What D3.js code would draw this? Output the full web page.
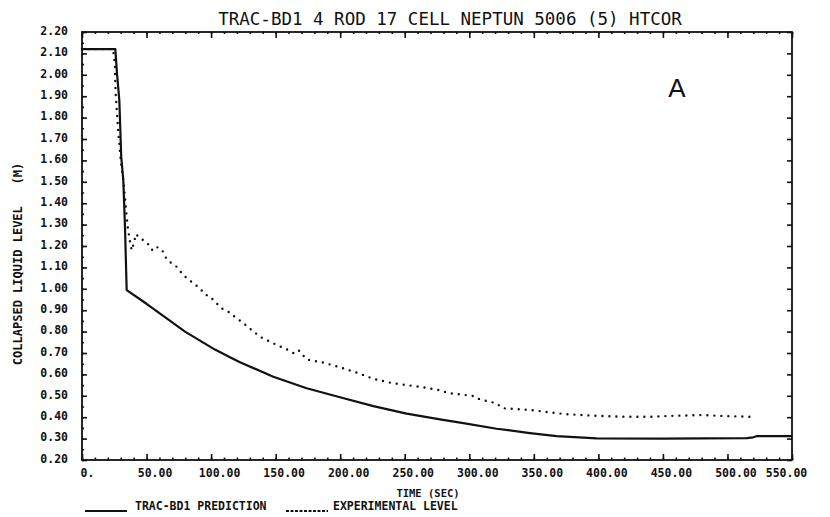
<!DOCTYPE html>
<html><head><meta charset="utf-8">
<script src="https://cdn.jsdelivr.net/npm/d3@7"></script>
<style>
body{margin:0;background:#fff}
text{font-family:"DejaVu Sans Mono",monospace;fill:#111}
</style>
</head><body>
<svg id="c" width="830" height="517"></svg>
<script>
const title = "TRAC-BD1 4 ROD 17 CELL NEPTUN 5006 (5) HTCOR";
const xLabel = "TIME (SEC)";
const yLabel = "COLLAPSED LIQUID LEVEL   (M)";
const panelTag = "A";
const legendNames = ["TRAC-BD1 PREDICTION", "EXPERIMENTAL LEVEL"];

const xTickValues = [0,50,100,150,200,250,300,350,400,450,500,550];
const xTickLabels = ["0.","50.00","100.00","150.00","200.00","250.00","300.00","350.00","400.00","450.00","500.00","550.00"];
const yTickValues = [0.2,0.3,0.4,0.5,0.6,0.7,0.8,0.9,1.0,1.1,1.2,1.3,1.4,1.5,1.6,1.7,1.8,1.9,2.0,2.1,2.2];
const yTickLabels = ["0.20","0.30","0.40","0.50","0.60","0.70","0.80","0.90","1.00","1.10","1.20","1.30","1.40","1.50","1.60","1.70","1.80","1.90","2.00","2.10","2.20"];

// TRAC-BD1 prediction (solid)
const predTime  = [0, 25.8, 27.1, 28.9, 30.4, 32.0, 33.3, 34.6, 50, 65.6, 79.8, 103, 114.6, 122.4, 148.2, 174, 199.9, 225.7, 251.5, 277.3, 295.4, 321.2, 347, 367.7, 398.7, 450, 515, 520, 523, 550];
const predLevel = [2.12, 2.12, 2.008, 1.882, 1.616, 1.508, 1.289, 0.994, 0.93, 0.862, 0.80, 0.716, 0.68, 0.657, 0.589, 0.535, 0.493, 0.452, 0.417, 0.39, 0.372, 0.346, 0.326, 0.312, 0.301, 0.300, 0.302, 0.306, 0.312, 0.312];

// Experimental level (dotted)
const expTime  = [0, 24, 25.5, 26, 28, 30, 32.5, 34.1, 35.6, 37.2, 38.5, 40, 41.8, 44.9, 48.8, 52.7, 54.7, 58.3, 61.7, 65.6, 69.5, 73.3, 78.5, 82.4, 86.2, 91.4, 95.3, 99.2, 103, 108, 113.3, 119.8, 123.7, 131.5, 137.9, 148.2, 158.6, 163.7, 167.6, 174, 187, 200, 213, 226, 239, 251.5, 264, 276, 285, 303, 308, 321, 326, 347, 373, 399, 422, 440, 455, 480, 500, 517];
const expLevel = [2.12, 2.12, 2.05, 1.92, 1.74, 1.6, 1.48, 1.37, 1.28, 1.22, 1.18, 1.21, 1.256, 1.236, 1.223, 1.20, 1.178, 1.194, 1.185, 1.138, 1.119, 1.103, 1.064, 1.044, 1.026, 1.002, 0.974, 0.963, 0.94, 0.909, 0.893, 0.862, 0.846, 0.807, 0.776, 0.745, 0.717, 0.70, 0.714, 0.67, 0.655, 0.633, 0.608, 0.579, 0.561, 0.55, 0.54, 0.527, 0.512, 0.499, 0.484, 0.465, 0.442, 0.434, 0.415, 0.406, 0.402, 0.402, 0.406, 0.41, 0.405, 0.402];

const svg = d3.select("#c");
const L = 82, R = 792, T = 32, B = 460;
const x = d3.scaleLinear().domain([0, 550]).range([L, R]);
const y = d3.scaleLinear().domain([0.2, 2.2]).range([B, T]);
const ink = "#111";

// frame
svg.append("rect").attr("x", L).attr("y", T).attr("width", R - L).attr("height", B - T)
  .attr("fill", "none").attr("stroke", ink).attr("stroke-width", 1.8);

function styleAxis(g) {
  g.select(".domain").remove();
  g.selectAll(".tick line").attr("stroke", ink).attr("stroke-width", 1.6);
}

// bottom axis
const xLabMap = new Map(xTickValues.map((v, i) => [v, xTickLabels[i]]));
const gx = svg.append("g").attr("transform", `translate(0,${B})`)
  .call(d3.axisBottom(x).tickValues(xTickValues).tickSize(-6).tickSizeOuter(0).tickPadding(9).tickFormat(d => xLabMap.get(d)));
styleAxis(gx);
gx.selectAll(".tick text").attr("font-size", 11.5).attr("font-weight", "bold").attr("fill", ink)
  .attr("dx", d => d === 550 ? -6 : (d === 0 ? 5 : 8));
const gxm = svg.append("g").attr("transform", `translate(0,${B})`)
  .call(d3.axisBottom(x).tickValues(d3.range(0, 551, 10)).tickSize(-2.5).tickSizeOuter(0).tickFormat(""));
styleAxis(gxm);

// top axis
const gt = svg.append("g").attr("transform", `translate(0,${T})`)
  .call(d3.axisTop(x).tickValues(xTickValues).tickSize(-6).tickSizeOuter(0).tickFormat(""));
styleAxis(gt);
const gtm = svg.append("g").attr("transform", `translate(0,${T})`)
  .call(d3.axisTop(x).tickValues(d3.range(0, 551, 10)).tickSize(-2).tickSizeOuter(0).tickFormat(""));
styleAxis(gtm);

// left axis
const yLabMap = new Map(yTickValues.map((v, i) => [v, yTickLabels[i]]));
const gy = svg.append("g").attr("transform", `translate(${L},0)`)
  .call(d3.axisLeft(y).tickValues(yTickValues).tickSize(-5).tickSizeOuter(0).tickPadding(14).tickFormat(d => yLabMap.get(d)));
styleAxis(gy);
gy.selectAll(".tick text").attr("font-size", 11.5).attr("font-weight", "bold").attr("fill", ink).attr("dy", "0.2em");
const gym = svg.append("g").attr("transform", `translate(${L},0)`)
  .call(d3.axisLeft(y).tickValues(d3.range(0.2, 2.201, 0.05)).tickSize(-2).tickSizeOuter(0).tickFormat(""));
styleAxis(gym);

// right axis
const gr = svg.append("g").attr("transform", `translate(${R},0)`)
  .call(d3.axisRight(y).tickValues(yTickValues).tickSize(-5).tickSizeOuter(0).tickFormat(""));
styleAxis(gr);

// series
const line = d3.line().x(d => x(d[0])).y(d => y(d[1]));
const pred = predTime.map((t, i) => [t, predLevel[i]]);
const exp = expTime.map((t, i) => [t, expLevel[i]]);

svg.append("path").datum(exp).attr("d", line).attr("fill", "none")
  .attr("stroke", ink).attr("stroke-width", 2.4).attr("stroke-linecap", "round")
  .attr("stroke-dasharray", "0 7");
svg.append("path").datum(pred).attr("d", line).attr("fill", "none")
  .attr("stroke", ink).attr("stroke-width", 2.2).attr("stroke-linejoin", "round");

// title
svg.append("text").attr("x", 450).attr("y", 25).attr("text-anchor", "middle")
  .attr("font-size", 17.5).text(title);

// panel tag
svg.append("text").attr("x", 677).attr("y", 97).attr("text-anchor", "middle")
  .style("font-family", "'Liberation Sans', Arial, sans-serif").attr("font-size", 26).text(panelTag);

// axis titles
svg.append("text").attr("x", 428).attr("y", 497).attr("text-anchor", "middle")
  .attr("font-size", 10.5).attr("font-weight", "bold").text(xLabel);
svg.append("text").attr("transform", "translate(22,264) rotate(-90)").attr("text-anchor", "middle")
  .attr("xml:space", "preserve").style("white-space", "pre")
  .attr("font-size", 12).attr("font-weight", "bold").text(yLabel);

// legend
const lg = svg.append("g");
lg.append("line").attr("x1", 85).attr("x2", 127).attr("y1", 511).attr("y2", 511)
  .attr("stroke", ink).attr("stroke-width", 1.8);
lg.append("text").attr("x", 135).attr("y", 510).attr("font-size", 11.5).attr("font-weight", "bold").text(legendNames[0]);
lg.append("line").attr("x1", 286).attr("x2", 328).attr("y1", 511).attr("y2", 511)
  .attr("stroke", ink).attr("stroke-width", 1.8).attr("stroke-dasharray", "3 1.5");
lg.append("text").attr("x", 333).attr("y", 510).attr("font-size", 11.5).attr("font-weight", "bold").text(legendNames[1]);
</script>
</body></html>
